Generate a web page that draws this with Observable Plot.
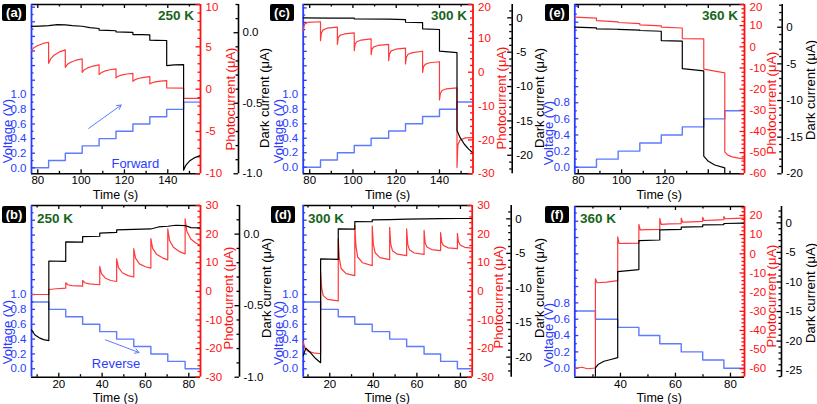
<!DOCTYPE html>
<html><head><meta charset="utf-8">
<script src="https://cdn.jsdelivr.net/npm/d3@7"></script>
<script src="https://cdn.jsdelivr.net/npm/@observablehq/plot@0.6"></script>
<style>
body{margin:0;background:#fff;}
#fig{position:relative;width:817px;height:404px;overflow:hidden;background:#fff;font-family:"Liberation Sans",Arial,sans-serif;}
.t{position:absolute;white-space:nowrap;transform:translate(-50%,-50%);line-height:1;}
.tag{position:absolute;background:#000;color:#fff;font-weight:bold;font-size:13px;border-radius:2px;text-align:center;line-height:17px;height:17px;width:24px;}
</style>
</head><body><div id="fig"></div>
<script>
// ---------------- tick labels ----------------
const topTimeTicks = [80, 100, 120, 140];
const eTimeTicks = [80, 100, 120];
const botTimeTicks = [20, 40, 60, 80];
const fTimeTicks = [40, 60, 80];
const voltTicks10 = [0, 0.2, 0.4, 0.6, 0.8, 1.0];
const voltTicks08 = [0, 0.2, 0.4, 0.6, 0.8];
const photoTicksA = [-10, -5, 0, 5, 10];
const photoTicksC = [-30, -20, -10, 0, 10, 20];
const photoTicksE = [-60, -50, -40, -30, -20, -10, 0, 10, 20];
const photoTicksBD = [-30, -20, -10, 0, 10, 20, 30];
const darkTicksAB = [0, -0.5, -1.0];
const darkTicksCDE = [0, -5, -10, -15, -20];
const darkTicksF = [0, -5, -10, -15, -20, -25];

// ---------------- (a) 250 K forward ----------------
const aVoltT = [77.1, 85, 92.7, 100.5, 108.3, 116.1, 123.9, 131.7, 139.5, 147.3, 155.1];
const aVoltV = [0, 0.1, 0.2, 0.3, 0.4, 0.5, 0.6, 0.7, 0.8, 0.9, 0.9];
const aPhotoT = [77.1,78,80,82.5,85, 85,86,87.5,90,92.7, 92.7,93.7,95.2,97.7,100.5, 100.5,101.5,103,105.5,108.3, 108.3,109.3,110.8,113.3,116.1, 116.1,117.1,118.6,121.1,123.9, 123.9,124.9,126.4,128.9,131.7, 131.7,132.7,134.2,136.7,139.5, 139.5,147.3, 147.3,155.1];
const aPhotoI = [4.56,4.85,5.15,5.4,5.54, 3.05,3.6,4.0,4.4,4.64, 2.58,2.93,3.18,3.42,3.57, 1.99,2.3,2.51,2.73,2.86, 1.72,1.95,2.12,2.29,2.39, 1.33,1.52,1.65,1.79,1.87, 0.93,1.12,1.26,1.4,1.48, 0.62,0.76,0.85,0.95,1.01, 0.14,0.12, -1.09,-1.1];
const aDarkT = [77.1,81,85,89,92.7,96,100.5,104,108.3, 108.3,112,116.1, 116.1,120,123.9, 123.9,128,131.7, 131.7,135,139.5, 139.5,143,147.3, 147.3,148.3,150,152.5,155.1];
const aDarkI = [0.045,0.047,0.05,0.058,0.056,0.05,0.046,0.036,0.03, 0.018,0.016,0.014, 0.006,0.004,0.002, -0.013,-0.014,-0.015, -0.053,-0.054,-0.055, -0.233,-0.228,-0.226, -0.975,-0.94,-0.91,-0.885,-0.87];
const aArrow = [{t1: 103.5, v1: 0.54, t2: 118.5, v2: 0.86}];

// ---------------- (c) 300 K forward ----------------
const cVoltT = [77, 85, 92.8, 100.6, 108.4, 116.5, 124.3, 132.2, 140, 148.1, 155.5];
const cVoltV = [0, 0.1, 0.2, 0.3, 0.4, 0.5, 0.6, 0.7, 0.8, 0.9, 0.9];
const cPhotoT = [77,77.6,79,85, 85,85.4,86.2,88,92.8, 92.8,93.2,94,96,100.6, 100.6,101,101.8,103.8,108.4, 108.4,108.8,109.6,111.6,116.5, 116.5,116.9,117.7,119.7,124.3, 124.3,124.7,125.5,127.5,132.2, 132.2,132.6,133.4,135.4,140, 140,140.4,141.2,143.2,148.1, 148.1,148.5,149.5,152,155.5];
const cPhotoI = [12.3,14.2,14.7,14.9, 9.35,11.5,12.5,13.0,13.3, 8.2,10.2,10.9,11.3,11.6, 6.4,8.3,9.0,9.5,9.85, 5.2,6.8,7.5,7.9,8.2, 3.4,5.4,6.3,6.8,7.1, 2.45,4.4,5.3,5.8,6.2, -0.03,1.6,2.3,2.8,3.1, -8.2,-6.3,-5.4,-4.9,-4.65, -28.1,-21.5,-20.0,-19.4,-19.3];
const cDarkT = [77,90,100.6, 100.6,116.5,124.3, 124.3,132.2, 132.2,140, 140,148.1, 148.1,149.5,151.5,153.5,155.5];
const cDarkI = [0,-0.03,-0.05, -0.15,-0.2,-0.25, -0.64,-0.7, -1.6,-1.7, -4.85,-5.05, -16.4,-17.4,-18.4,-19.1,-19.7];

// ---------------- (e) 360 K forward ----------------
const eVoltT = [78.4, 88.4, 98.4, 108.4, 118.3, 128, 137.9, 147.6, 156.7];
const eVoltV = [0, 0.1, 0.2, 0.3, 0.4, 0.5, 0.6, 0.7, 0.7];
const ePhotoT = [78.4,88.4, 88.4,98.4, 98.4,108.4, 108.4,118.3, 118.3,128, 128,137.9, 137.9,147.6, 147.6,149,151,154,156.7];
const ePhotoI = [14.0,13.6, 12.4,11.8, 11.5,11.0, 10.4,9.9, 9.3,8.9, 3.9,3.8, -10.5,-12.3, -49.6,-51.2,-52.0,-52.6,-53.0];
const eDarkT = [78.4,88.4, 88.4,98.4, 98.4,108.4, 108.4,118.3, 118.3,128, 128,137.9, 137.9,140,143,147.6, 147.6,156.7];
const eDarkI = [0.0,-0.1, -0.22,-0.28, -0.3,-0.4, -0.45,-0.55, -1.82,-1.9, -5.65,-5.95, -17.6,-18.3,-18.8,-19.2, -24,-24];

// ---------------- (b) 250 K reverse ----------------
const bVoltT = [7.4, 15.4, 23.2, 31.0, 38.9, 46.7, 54.6, 62.5, 70.3, 78.3, 85.4];
const bVoltV = [0.9, 0.8, 0.7, 0.6, 0.5, 0.4, 0.3, 0.2, 0.1, 0.0, 0.0];
const bPhotoT = [7.4,15.4, 15.4,19,23.2, 23.2,24.2,26,31.0, 31.0,32,34,38.9, 38.9,39.7,41.5,44,46.7, 46.7,47.5,49.3,52,54.6, 54.6,55.4,57.2,60,62.5, 62.5,63.3,65.1,67.8,70.3, 70.3,71.1,72.9,75.6,78.3, 78.3,79.1,80.9,83.4,85.4];
const bPhotoI = [-1.1,-1.1, 0.65,0.9,1.1, 3.0,2.3,2.0,1.8, 3.8,3.0,2.6,2.3, 8.7,6.2,4.6,3.8,3.45, 11.4,8.4,6.5,5.5,5.0, 14.9,11.6,9.6,8.6,8.1, 18.4,15.0,13.0,11.7,11.0, 21.8,17.8,15.4,13.9,13.1, 25.3,21.0,18.3,16.8,16.0];
const bDarkT = [7.4,9,11,13,15.4, 15.4,23.2, 23.2,31.0, 31.0,38.9, 38.9,46.7, 46.7,54.6,62.5,66,70.3,74,78.3,81,85.4];
const bDarkI = [-0.669,-0.705,-0.725,-0.737,-0.744, -0.188,-0.19, -0.054,-0.056, -0.017,-0.015, 0.007,0.012, 0.03,0.033,0.036,0.05,0.055,0.062,0.06,0.045,0.043];
const bArrow = [{t1: 41.5, v1: 0.39, t2: 57, v2: 0.22}];

// ---------------- (d) 300 K reverse ----------------
const dVoltT = [7.8, 15.8, 23.9, 31.5, 39.5, 47.5, 55.3, 63.3, 70.9, 78.6, 85.4];
const dVoltV = [0.9, 0.8, 0.7, 0.6, 0.5, 0.4, 0.3, 0.2, 0.1, 0.0, 0.0];
const dPhotoT = [7.8,8.5,10,12.5,15.8, 15.8,16.3,17,19,23.9, 23.9,24.4,25.2,27.5,31.5, 31.5,32,32.8,35,39.5, 39.5,40,40.8,43,47.5, 47.5,48,48.8,51,55.3, 55.3,55.8,56.6,58.8,63.3, 63.3,63.8,64.6,66.8,70.9, 70.9,71.4,72.2,74.4,78.6, 78.6,79.1,79.9,82,85.4];
const dPhotoI = [-17.6,-19.8,-21.0,-21.5,-21.8, 6.7,1.0,-1.5,-2.8,-3.3, 18.4,11.5,8.0,6.2,5.5, 23.0,16.0,12.0,10.0,9.0, 22.8,16.5,13.5,11.8,11.1, 22.4,16.5,14.2,13.0,12.5, 21.8,16.5,14.5,13.4,12.9, 21.3,17.0,15.5,14.6,14.2, 20.5,17.2,16.0,15.2,14.9, 20.3,17.3,16.2,15.4,15.1];
const dDarkT = [7.8,9,11,13.5,15.8, 15.8,23.9, 23.9,31.5, 31.5,39.5, 39.5,47.5,55.3,63.3,70.9,78.6,85.4];
const dDarkI = [-19.8,-18.7,-19.3,-20.2,-20.8, -5.8,-5.85, -1.45,-1.5, -0.39,-0.42, -0.14,-0.1,-0.05,0.0,0.03,0.05,0.05];

// ---------------- (f) 360 K reverse ----------------
const fVoltT = [23.4, 30.9, 39.0, 46.7, 54.3, 62.1, 69.9, 77.6, 85.1];
const fVoltV = [0.7, 0.6, 0.5, 0.4, 0.3, 0.2, 0.1, 0.0, 0.0];
const fPhotoT = [23.4,26,28,30.9, 30.9,31.5,35,39.0, 39.0,39.5,42,46.7, 46.7,47.2,50,54.3, 54.3,54.8,58,62.1, 62.1,62.6,66,69.9, 69.9,70.4,74,77.6, 77.6,78.1,82,85.1];
const fPhotoI = [-59.8,-59.2,-60.0,-59.6, -13.0,-15.1,-14.8,-14.0, 8.8,5.4,5.5,5.6, 15.4,12.5,12.6,12.8, 18.5,15.4,15.6,15.8, 18.6,16.5,16.7,16.9, 19.1,17.4,17.6,17.8, 19.5,18.3,18.5,18.6];
const fDarkT = [23.4,30.9, 30.9,32,34,36.5,39.0, 39.0,46.7, 46.7,54.3, 54.3,62.1, 62.1,69.9, 69.9,77.6, 77.6,85.1];
const fDarkI = [-30,-30, -24.5,-23.9,-23.4,-23.1,-22.8, -8.25,-7.9, -3.0,-2.9, -1.19,-1.1, -0.73,-0.65, -0.34,-0.3, -0.11,-0.05];

// ---------------- styles ----------------
const BLUE_AX = "#2a3cff", BLUE_LN = "#5d7bff", RED_AX = "#ff1010", RED_LN = "#ff3a3a", GREEN = "#17651b";
const FONT = "'Liberation Sans', Arial, sans-serif";
const W = 817, H = 404;

const panels = [
  {tag:"(a)", temp:"250 K", fL:31, fR:200, fT:4, fB:173.3, dX:238,
   xDom:[77.1,155.1], vDom:[-0.082,2.237], pDom:[-10,10], dDom:[-1,0.2],
   xLab:topTimeTicks, vLab:voltTicks10, pLab:photoTicksA, pStep:1, dLab:darkTicksAB, dStep:0.1, dDec:1,
   vt:aVoltT, vv:aVoltV, pt:aPhotoT, pi:aPhotoI, dt:aDarkT, di:aDarkI, arrow:aArrow, note:"Forward", noteT:125, noteV:0.06,
   tagX:2, tagY:4, tempX:176, tempY:16, volX:7, volY:131, phX:230, phY:99, dkX:264, dkY:98, timeY:195},
  {tag:"(c)", temp:"300 K", fL:302.7, fR:472.5, fT:4, fB:173.3, dX:511.7,
   xDom:[77,155.5], vDom:[-0.091,2.247], pDom:[-30,20], dDom:[-22.7,1.94],
   xLab:topTimeTicks, vLab:voltTicks10, pLab:photoTicksC, pStep:2, dLab:darkTicksCDE, dStep:1, dDec:0,
   vt:cVoltT, vv:cVoltV, pt:cPhotoT, pi:cPhotoI, dt:cDarkT, di:cDarkI,
   tagX:270, tagY:4, tempX:449, tempY:16, volX:278, volY:131, phX:501, phY:98, dkX:539, dkY:98, timeY:195},
  {tag:"(e)", temp:"360 K", fL:574.3, fR:744, fT:4, fB:173.3, dX:781.7,
   xDom:[78.4,156.7], vDom:[-0.082,2.02], pDom:[-60,20], dDom:[-20,3.1],
   xLab:eTimeTicks, vLab:voltTicks08, pLab:photoTicksE, pStep:2, dLab:darkTicksCDE, dStep:1, dDec:0,
   vt:eVoltT, vv:eVoltV, pt:ePhotoT, pi:ePhotoI, dt:eDarkT, di:eDarkI,
   tagX:545, tagY:4, tempX:720, tempY:16, volX:548, volY:133, phX:771, phY:103, dkX:810, dkY:90, timeY:195},
  {tag:"(b)", temp:"250 K", fL:31, fR:200, fT:205, fB:376.7, dX:239,
   xDom:[7.4,85.4], vDom:[-0.113,2.198], pDom:[-30,30], dDom:[-1,0.2],
   xLab:botTimeTicks, vLab:voltTicks10, pLab:photoTicksBD, pStep:2, dLab:darkTicksAB, dStep:0.1, dDec:1,
   vt:bVoltT, vv:bVoltV, pt:bPhotoT, pi:bPhotoI, dt:bDarkT, di:bDarkI, arrow:bArrow, note:"Reverse", noteT:46.4, noteV:0.07,
   tagX:2, tagY:206, tempX:55, tempY:219, volX:7, volY:332, phX:228, phY:298, dkX:266, dkY:288, timeY:397.5},
  {tag:"(d)", temp:"300 K", fL:302.7, fR:471.7, fT:205, fB:376.7, dX:510.7,
   xDom:[7.8,85.4], vDom:[-0.113,2.198], pDom:[-30,30], dDom:[-22.9,1.93],
   xLab:botTimeTicks, vLab:voltTicks10, pLab:photoTicksBD, pStep:2, dLab:darkTicksCDE, dStep:1, dDec:0,
   vt:dVoltT, vv:dVoltV, pt:dPhotoT, pi:dPhotoI, dt:dDarkT, di:dDarkI,
   tagX:271, tagY:206, tempX:326, tempY:219, volX:278, volY:333, phX:498, phY:297, dkX:539, dkY:288, timeY:397.5},
  {tag:"(f)", temp:"360 K", fL:574.3, fR:744, fT:206, fB:376.7, dX:781,
   xDom:[23.4,85.1], vDom:[-0.11,1.98], pDom:[-64.4,24.7], dDom:[-26.1,2.76],
   xLab:fTimeTicks, vLab:voltTicks08, pLab:photoTicksE, pStep:2, dLab:darkTicksF, dStep:1, dDec:0,
   vt:fVoltT, vv:fVoltV, pt:fPhotoT, pi:fPhotoI, dt:fDarkT, di:fDarkI,
   tagX:545, tagY:206, tempX:598, tempY:219, volX:548, volY:335, phX:771, phY:296, dkX:810, dkY:293, timeY:397.5}
];

const fig = document.getElementById("fig");
const svgStyle = `position:absolute;left:0;top:0;background:transparent;overflow:visible;max-width:none;font-family:${FONT};font-size:11px;`;

function steps(lo, hi, step) {
  const out = [];
  const s = Math.ceil(lo / step - 1e-9), e = Math.floor(hi / step + 1e-9);
  for (let k = s; k <= e; k++) out.push(+(k * step).toFixed(6));
  return out;
}
function minorOf(dom, step, majors) {
  return steps(Math.min(...dom), Math.max(...dom), step).filter(v => !majors.some(m => Math.abs(m - v) < 1e-6));
}
function base(p, extra) {
  return Object.assign({width: W, height: H, marginLeft: p.fL, marginRight: W - p.fR,
    marginTop: p.fT, marginBottom: H - p.fB, style: svgStyle}, extra);
}
function label(txt, x, y, css) {
  const d = document.createElement("div");
  d.className = "t"; d.textContent = txt;
  d.style.left = x + "px"; d.style.top = y + "px";
  d.style.cssText += css || "";
  fig.appendChild(d);
}

for (const p of panels) {
  const fw = p.fR - p.fL, fh = p.fB - p.fT;
  const volt = p.vt.map((t, k) => ({t, v: p.vv[k]}));
  const photo = p.pt.map((t, k) => ({t, i: p.pi[k]}));
  const dark = p.dt.map((t, k) => ({t, i: p.di[k]}));
  const xMajor = steps(p.xDom[0], p.xDom[1], 20);
  const xMinor = minorOf(p.xDom, 10, xMajor);
  const vMajor = steps(0, p.vDom[1], 0.2);
  const vMinor = minorOf([0, p.vDom[1]], 0.1, vMajor);
  const pMinor = minorOf(p.pDom, p.pStep, p.pLab);
  const dMinor = minorOf(p.dDom, p.dStep, p.dLab);
  // the topmost red label sits at the figure's upper edge in the top row: nudge it down a little
  const pTop = p.fT < 10 ? p.pLab.filter(v => v === p.pDom[1]) : [];
  const pRest = p.pLab.filter(v => !pTop.includes(v));

  // voltage layer + frame + time axis
  const vMarks = [
    Plot.line(volt, {x: "t", y: "v", curve: "step-after", stroke: BLUE_LN, strokeWidth: 1.4}),
    Plot.ruleY([p.vDom[0], p.vDom[1]], {stroke: "#000", strokeWidth: 1.6}),
    Plot.ruleX([p.xDom[0]], {stroke: BLUE_AX, strokeWidth: 1.8}),
    Plot.tickX(xMajor, {x: d => d, insetTop: fh - 4, stroke: "#000", strokeWidth: 1.3}),
    Plot.tickX(xMinor, {x: d => d, insetTop: fh - 2.5, stroke: "#000", strokeWidth: 1.3}),
    Plot.tickX(xMajor, {x: d => d, insetBottom: fh - 4, stroke: "#000", strokeWidth: 1.3}),
    Plot.tickX(xMinor, {x: d => d, insetBottom: fh - 2.5, stroke: "#000", strokeWidth: 1.3}),
    Plot.axisX({ticks: p.xLab, tickSize: 0, tickPadding: 2.5, label: null, tickFormat: d => String(d), fill: "#000", fontSize: 11.5}),
    Plot.tickY(vMajor, {y: d => d, insetRight: fw - 4, stroke: BLUE_AX, strokeWidth: 1.3}),
    Plot.tickY(vMinor, {y: d => d, insetRight: fw - 2.5, stroke: BLUE_AX, strokeWidth: 1.3}),
    Plot.axisY({ticks: p.vLab, tickSize: 0, tickPadding: 5, label: null, tickFormat: d => d.toFixed(1), fill: BLUE_AX, fontSize: 11.5})
  ];
  if (p.arrow) {
    vMarks.push(Plot.arrow(p.arrow, {x1: "t1", y1: "v1", x2: "t2", y2: "v2", stroke: BLUE_LN, strokeWidth: 1, headLength: 7}));
    vMarks.push(Plot.text([p.note], {x: p.noteT, y: p.noteV, text: d => d, fill: BLUE_AX, fontSize: 13}));
  }
  fig.appendChild(Plot.plot(base(p, {x: {domain: p.xDom}, y: {domain: p.vDom}, marks: vMarks})));

  // photocurrent layer (red, right axis)
  const pMarks = [
    Plot.line(photo, {x: "t", y: "i", stroke: RED_LN, strokeWidth: 1.2, clip: true}),
    Plot.ruleX([p.xDom[1]], {stroke: RED_AX, strokeWidth: 1.8}),
    Plot.tickY(p.pLab, {y: d => d, insetLeft: fw - 4.5, stroke: RED_AX, strokeWidth: 1.3}),
    Plot.tickY(pMinor, {y: d => d, insetLeft: fw - 2.5, stroke: RED_AX, strokeWidth: 1.3}),
    Plot.axisY({anchor: "right", ticks: pRest, tickSize: 0, tickPadding: 5, label: null, tickFormat: d => String(d), fill: RED_AX, fontSize: 11.5})
  ];
  if (pTop.length) pMarks.push(Plot.axisY({anchor: "right", ticks: pTop, tickSize: 0, tickPadding: 5, label: null, dy: 3, tickFormat: d => String(d), fill: RED_AX, fontSize: 11.5}));
  fig.appendChild(Plot.plot(base(p, {x: {domain: p.xDom, axis: null}, y: {domain: p.pDom}, marks: pMarks})));

  // dark current line
  fig.appendChild(Plot.plot(base(p, {
    x: {domain: p.xDom, axis: null}, y: {domain: p.dDom, axis: null},
    marks: [Plot.line(dark, {x: "t", y: "i", stroke: "#000", strokeWidth: 1.2, clip: true})]})));

  // dark current axis (offset to the right)
  fig.appendChild(Plot.plot({width: W, height: H, marginLeft: p.dX - 10, marginRight: W - p.dX,
    marginTop: p.fT, marginBottom: H - p.fB, style: svgStyle,
    x: {domain: [0, 1], axis: null}, y: {domain: p.dDom},
    marks: [
      Plot.ruleX([1], {stroke: "#000", strokeWidth: 1.6}),
      Plot.tickY(p.dLab, {y: d => d, insetLeft: 10 - 4.5, stroke: "#000", strokeWidth: 1.3}),
      Plot.tickY(dMinor, {y: d => d, insetLeft: 10 - 2.5, stroke: "#000", strokeWidth: 1.3}),
      Plot.axisY({anchor: "right", ticks: p.dLab, tickSize: 0, tickPadding: 4, label: null,
        tickFormat: d => d.toFixed(p.dDec), fill: "#000", fontSize: 11.5})
    ]}));

  // text labels
  label("Time (s)", (p.fL + p.fR) / 2, p.timeY, "font-size:12.5px;color:#000;");
  label("Voltage (V)", p.volX, p.volY, `font-size:13px;color:${BLUE_AX};transform:translate(-50%,-50%) rotate(-90deg);`);
  label("Photocurrent (\u03bcA)", p.phX, p.phY, `font-size:13px;color:${RED_AX};transform:translate(-50%,-50%) rotate(-90deg);`);
  label("Dark current (\u03bcA)", p.dkX, p.dkY, "font-size:13px;color:#000;transform:translate(-50%,-50%) rotate(-90deg);");
  label(p.temp, p.tempX, p.tempY, `font-size:13.5px;font-weight:bold;color:${GREEN};`);
  const tg = document.createElement("div");
  tg.className = "tag"; tg.textContent = p.tag;
  tg.style.left = p.tagX + "px"; tg.style.top = p.tagY + "px";
  fig.appendChild(tg);
}
</script>
</body></html>
